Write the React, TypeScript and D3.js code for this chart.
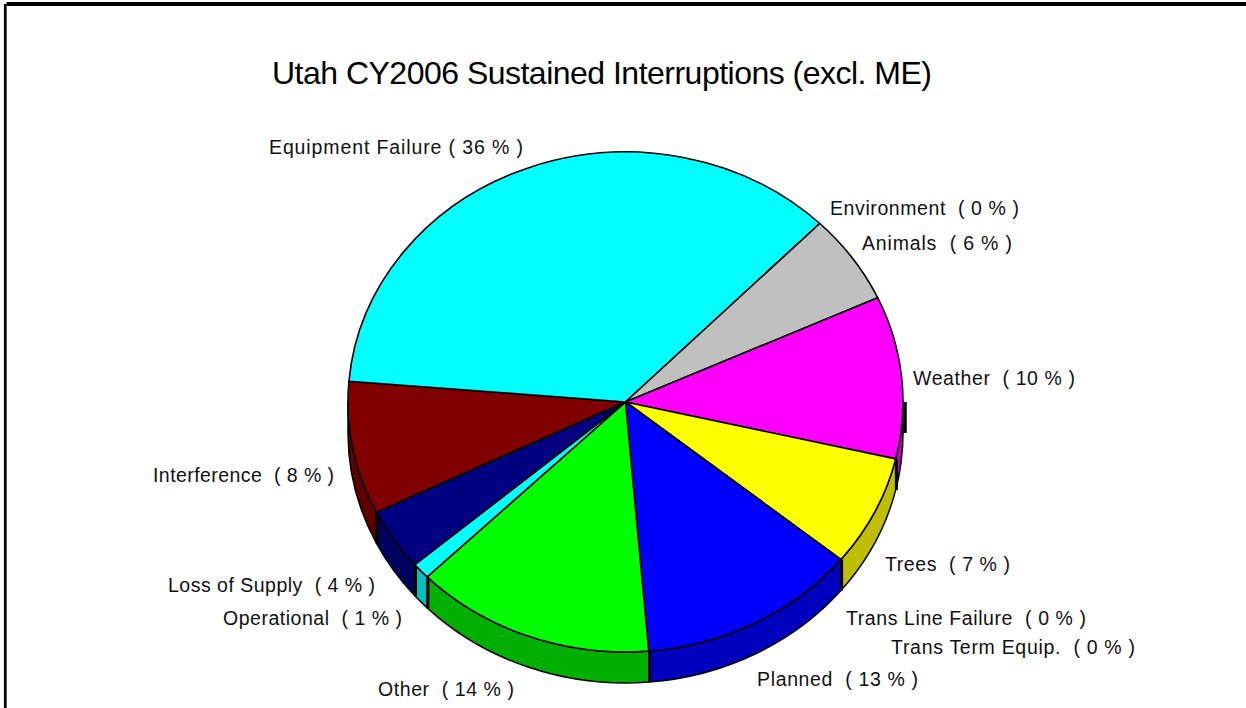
import * as d3 from "d3";
import React from "react";

// slice values in percent, clockwise from Interference
const categories = ["Interference", "Equipment Failure", "Environment", "Animals", "Weather", "Trees", "Trans Line Failure", "Trans Term Equip.", "Planned", "Other", "Operational", "Loss of Supply"];
const values = [8.6, 36.0, 0, 5.8, 10.5, 7.2, 0, 0, 12.8, 14.0, 1.05, 4.0];
const shownPercents = [8, 36, 0, 6, 10, 7, 0, 0, 13, 14, 1, 4];
const topColors = ["#800000", "#00ffff", "#008080", "#c0c0c0", "#ff00ff", "#ffff00", "#00ff00", "#ff0000", "#0000ff", "#00ff00", "#00ffff", "#000080"];
const sideColors = ["#600000", "#00bfbf", "#006060", "#909090", "#bf00bf", "#bfbf00", "#00bf00", "#bf0000", "#0000bf", "#00b000", "#00bfbf", "#000060"];

// label placement: [left, right, baseline]
const labelBoxes: [number, number, number][] = [
  [153, 334, 482],
  [269, 523, 154],
  [830, 1019, 215],
  [862, 1012, 250],
  [913, 1075, 385],
  [885, 1010, 571],
  [846, 1086, 625],
  [891, 1135, 654],
  [757, 918, 686],
  [378, 514, 696],
  [223, 402, 625],
  [168, 375, 592],
];

const width = 1246;
const height = 708;
const cx = 625.5;
const cy = 402;
const rx = 277.5;
const ry = 250;
const depth = 31;
const font = "'Liberation Sans', Arial, sans-serif";

const pie = d3
  .pie<number>()
  .sort(null)
  .startAngle((243.8 * Math.PI) / 180)
  .endAngle((243.8 * Math.PI) / 180 + 2 * Math.PI);
const slices = pie(values);

const arc = d3.arc<d3.PieArcDatum<number>>().innerRadius(0).outerRadius(rx);

const px = (a: number) => cx + rx * Math.sin(a);
const py = (a: number) => cy - ry * Math.cos(a);

// the rim is only seen on the front half, between 90 and 270 degrees
const wallRange = (s: d3.PieArcDatum<number>) => {
  const tau = 2 * Math.PI;
  let a0 = s.startAngle;
  let a1 = s.endAngle;
  if (a0 >= tau) {
    a0 -= tau;
    a1 -= tau;
  }
  const lo = Math.max(a0, Math.PI / 2);
  const hi = Math.min(a1, (3 * Math.PI) / 2);
  return hi > lo ? [lo, hi] : null;
};

const wallPath = (lo: number, hi: number) =>
  `M${px(lo)},${py(lo)}A${rx},${ry} 0 0 1 ${px(hi)},${py(hi)}` +
  `L${px(hi)},${py(hi) + depth}A${rx},${ry} 0 0 0 ${px(lo)},${py(lo) + depth}Z`;

const walls = slices.map((s) => wallRange(s));

export default function App() {
  return (
    <svg width={width} height={height} style={{ position: "fixed", left: 0, top: 0, background: "#fff" }}>
      <line x1={6.5} y1={4} x2={width} y2={4} stroke="#000" strokeWidth={4} />
      <line x1={5.3} y1={4} x2={5.3} y2={height} stroke="#000" strokeWidth={2.7} />
      <text x={272} y={83.5} fontFamily={font} fontSize={32} textLength={660} lengthAdjust="spacing" fill="#000">
        Utah CY2006 Sustained Interruptions (excl. ME)
      </text>

      {walls.map((w, i) =>
        w ? (
          <path key={categories[i]} d={wallPath(w[0], w[1])} fill={sideColors[i]} stroke="#000" strokeWidth={1.5} strokeLinejoin="round" />
        ) : null
      )}
      {/* thick dark edges between the rim pieces */}
      {walls.map((w, i) =>
        w && w[1] < (3 * Math.PI) / 2 ? (
          <line key={categories[i]} x1={px(w[1]) + 0.7} y1={py(w[1])} x2={px(w[1]) + 0.7} y2={py(w[1]) + depth} stroke="#000" strokeWidth={3} />
        ) : null
      )}
      {/* rim edge at the far right where the wall starts */}
      <line x1={cx + rx + 2} y1={cy} x2={cx + rx + 2} y2={cy + depth} stroke="#000" strokeWidth={3.5} />

      <g transform={`translate(${cx},${cy}) scale(1,${ry / rx})`}>
        {slices.map((s, i) => (
          <path
            key={categories[i]}
            d={arc(s) ?? ""}
            fill={topColors[i]}
            stroke="#000"
            strokeWidth={1.6}
            strokeLinejoin="round"
            style={{ vectorEffect: "non-scaling-stroke" }}
          />
        ))}
      </g>

      {categories.map((c, i) => {
        const [x0, x1, y] = labelBoxes[i];
        const gap = c === "Equipment Failure" ? " " : "  ";
        return (
          <text
            key={c}
            x={x0}
            y={y}
            fontFamily={font}
            fontSize={19.5}
            fill="#111"
            textLength={x1 - x0}
            lengthAdjust="spacing"
            xmlSpace="preserve"
          >
            {`${c}${gap}( ${shownPercents[i]} % )`}
          </text>
        );
      })}
    </svg>
  );
}
